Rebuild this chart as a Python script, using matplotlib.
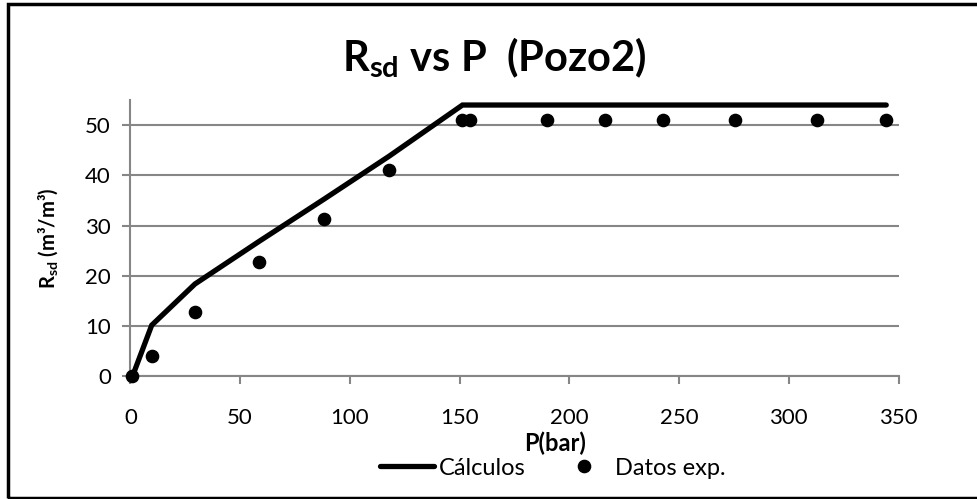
import matplotlib.pyplot as plt
from matplotlib.patches import Rectangle

# Pressure (bar) and solution gas ratio Rsd (m3/m3)
presion = [0.9, 9.7, 29.4, 58.7, 88.3, 117.8, 151.3, 154.7, 189.6, 216.4, 242.7, 275.6, 312.8, 344.4]
rsd_calculos = [0, 10.2, 18.4, 26.9, 35.3, 43.8, 54.0, 54.0, 54.0, 54.0, 54.0, 54.0, 54.0, 54.0]
rsd_exp = [0, 4.1, 12.8, 22.7, 31.3, 41.1, 51.0, 51.0, 51.0, 51.0, 51.0, 51.0, 51.0, 51.0]

x_ticks = [0, 50, 100, 150, 200, 250, 300, 350]
y_ticks = [0, 10, 20, 30, 40, 50]

plt.rcParams['font.family'] = ['Lato', 'DejaVu Sans']
plt.rcParams['mathtext.fontset'] = 'custom'
plt.rcParams['mathtext.rm'] = 'Lato:bold'
plt.rcParams['mathtext.it'] = 'Lato:bold'
plt.rcParams['mathtext.bf'] = 'Lato:bold'
plt.rcParams['mathtext.default'] = 'rm'

fig = plt.figure(figsize=(9.77, 4.99), dpi=100)
ax = fig.add_axes([0.1335, 0.2455, 0.7862, 0.5541])

gris = '#868686'
ax.plot(presion, rsd_calculos, color='black', lw=3.8, solid_capstyle='round',
        solid_joinstyle='miter', label='Cálculos', zorder=3, clip_on=False)
ax.plot(presion, rsd_exp, 'o', color='black', ms=8.8, label='Datos exp.', zorder=4, clip_on=False)

ax.set_xlim(0, 350)
ax.set_ylim(0, 55)
ax.set_xticks(x_ticks)
ax.set_yticks(y_ticks)
ax.yaxis.grid(True, color=gris, lw=1.5)
ax.set_axisbelow(True)
for s in ['top', 'right']:
    ax.spines[s].set_visible(False)
for s in ['left', 'bottom']:
    ax.spines[s].set_color(gris)
    ax.spines[s].set_linewidth(1.5)
ax.tick_params(axis='x', direction='out', length=6, width=1.5, color=gris, pad=17, labelsize=16)
ax.tick_params(axis='y', direction='out', length=6, width=1.5, color=gris, pad=8, labelsize=16)

ax.set_xlabel('P(bar)', fontsize=17, fontweight='bold')
ax.xaxis.set_label_coords(0.553, -0.2)
ax.set_ylabel('R$_{sd}$ (m³/m³)', fontsize=14.5, fontweight='bold', labelpad=18)

fig.text(0.506, 0.885, 'R$_{sd}$ vs P  (Pozo2)', fontsize=30, fontweight='bold',
         ha='center', va='center')

fig.legend(loc='center', bbox_to_anchor=(0.566, 0.062), ncol=2, frameon=False,
           fontsize=17, handlelength=2.3, handletextpad=0.2, columnspacing=1.3)

fig.patches.append(Rectangle((8 / 977, 1.5 / 499), 1.2, 494 / 499, transform=fig.transFigure,
                             fill=False, edgecolor='black', lw=2.5))

fig.savefig('out.png', dpi=100)
